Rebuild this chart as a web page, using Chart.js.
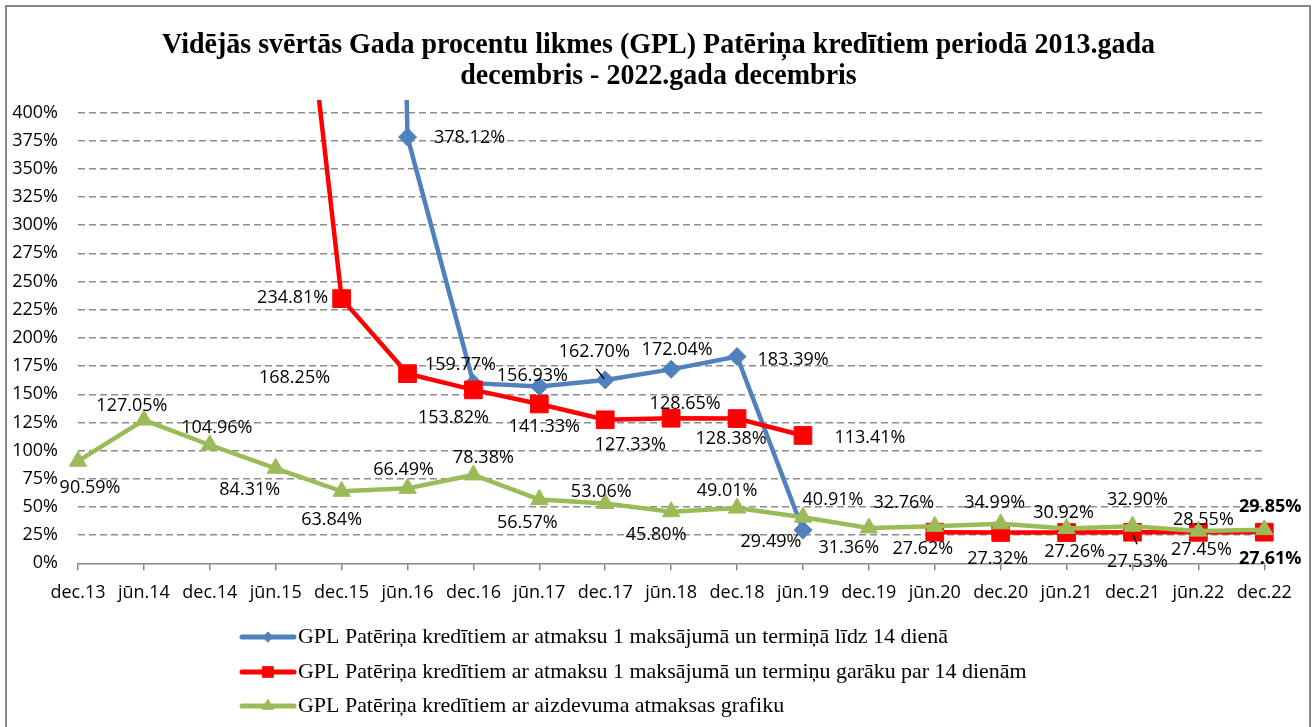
<!DOCTYPE html>
<html>
<head>
<meta charset="utf-8">
<title>GPL Patēriņa kredītiem</title>
<script src="https://cdn.jsdelivr.net/npm/chart.js@4.4.0/dist/chart.umd.min.js"></script>
<style>
  html, body { margin: 0; padding: 0; background: #fff; }
  #wrap { width: 1315px; height: 727px; position: relative; }
</style>
</head>
<body>
<div id="wrap"><canvas id="grafiks" width="1315" height="727"></canvas></div>
<script>
/* Dati nolasīti no attēla (vērtības %) */
const periodi = ['dec.13', 'jūn.14', 'dec.14', 'jūn.15', 'dec.15', 'jūn.16', 'dec.16', 'jūn.17', 'dec.17', 'jūn.18',
  'dec.18', 'jūn.19', 'dec.19', 'jūn.20', 'dec.20', 'jūn.21', 'dec.21', 'jūn.22', 'dec.22'];

// dec.15 vērtība iziet ārpus ass – aptuvens novērtējums
const gplLidz14 = [null, null, null, null, 3000, 378.12, 159.77, 156.93, 162.70, 172.04,
  183.39, 29.49, null, null, null, null, null, null, null];

// jūn.15 vērtība iziet ārpus ass – aptuvens novērtējums
const gplVirs14 = [null, null, null, 750, 234.81, 168.25, 153.82, 141.33, 127.33, 128.65,
  128.38, 113.41, null, 27.62, 27.32, 27.26, 27.53, 27.45, 27.61];

const gplGrafiks = [90.59, 127.05, 104.96, 84.31, 63.84, 66.49, 78.38, 56.57, 53.06, 45.80,
  49.01, 40.91, 31.36, 32.76, 34.99, 30.92, 32.90, 28.55, 29.85];

const yMaks = 400;
const ySolis = 25;

const nosaukums = ['Vidējās svērtās Gada procentu likmes (GPL) Patēriņa kredītiem periodā 2013.gada',
  'decembris - 2022.gada decembris'];
const legendasTeksti = [
  'GPL Patēriņa kredītiem ar atmaksu 1 maksājumā un termiņā līdz 14 dienā',
  'GPL Patēriņa kredītiem ar atmaksu 1 maksājumā un termiņu garāku par 14 dienām',
  'GPL Patēriņa kredītiem ar aizdevuma atmaksas grafiku'
];

/* Etiķešu novietojums attiecībā pret punktu [dx, dy] */
const etiketesLidz14 = [null, null, null, null, null, [62, 1], [-13, -18], [-7, -11], [-11, -28], [6, -19],
  [56, 3], [-32, 12], null, null, null, null, null, null, null];
const etiketesVirs14 = [null, null, null, null, [-49, -1], [-113, 4], [-20, 28], [5, 23], [25, 25], [14, -14],
  [-6, 20], [67, 2], null, [-12, 17], [-3, 26], [8, 19], [5, 30], [3, 18], [6, 27]];
const etiketesGrafiks = [[12, 27], [-12, -14], [7, -17], [-26, 22], [-10, 29], [-4, -18], [10, -17], [-12, 23],
  [-4, -12], [-15, 23], [-10, -17], [30, -17], [-20, 20], [-31, -23], [-6, -21], [-3, -16], [5, -26], [5, -11], [6, -23]];

const ZILS = '#4F81BD';
const SARKANS = '#FF0000';
const ZALS = '#9BBB59';
const PELEKS = '#878787';
const fonts = '"Open Sans", "Liberation Sans", sans-serif';
const serifs = '"Liberation Serif", "Times New Roman", serif';

const datuKopas = [
  { label: legendasTeksti[0], data: gplLidz14, borderColor: ZILS, backgroundColor: ZILS,
    pointStyle: 'rectRot', pointRadius: 9, etiketes: etiketesLidz14, legMarks: 5,
    lideri: { 8: [-1, -1, -9, -11] } },
  { label: legendasTeksti[1], data: gplVirs14, borderColor: SARKANS, backgroundColor: SARKANS,
    pointStyle: 'rect', pointRadius: 12.5, etiketes: etiketesVirs14, trekns: 18, legMarks: 7.5,
    lideri: { 16: [0.5, 2, 4.5, 12] } },
  { label: legendasTeksti[2], data: gplGrafiks, borderColor: ZALS, backgroundColor: ZALS,
    pointStyle: 'triangle', pointRadius: 10, etiketes: etiketesGrafiks, trekns: 18, legMarks: 6.5 }
];

const zimejumi = {
  id: 'zimejumi',
  afterDatasetsDraw(chart) {
    const ctx = chart.ctx;
    ctx.save();
    ctx.fillStyle = '#000';
    ctx.textAlign = 'center';
    ctx.textBaseline = 'middle';
    chart.data.datasets.forEach((ds, i) => {
      const meta = chart.getDatasetMeta(i);
      ds.data.forEach((v, j) => {
        const nob = ds.etiketes[j];
        if (v === null || !nob || v > yMaks) return;
        const p = meta.data[j];
        ctx.font = (ds.trekns === j ? 'bold ' : '') + '18px ' + fonts;
        ctx.fillText(v.toFixed(2) + '%', p.x + nob[0], p.y + nob[1]);
        if (ds.lideri && ds.lideri[j]) {
          const l = ds.lideri[j];
          ctx.strokeStyle = '#000';
          ctx.lineWidth = 1.5;
          ctx.beginPath();
          ctx.moveTo(p.x + l[0], p.y + l[1]);
          ctx.lineTo(p.x + l[2], p.y + l[3]);
          ctx.stroke();
        }
      });
    });
    ctx.restore();
  },
  afterDraw(chart) {
    const ctx = chart.ctx;
    ctx.save();
    // rāmis
    ctx.strokeStyle = PELEKS;
    ctx.lineWidth = 2;
    ctx.strokeRect(6, 6, 1304, 760);

    // virsraksts
    ctx.fillStyle = '#000';
    ctx.font = 'bold 29px ' + serifs;
    ctx.textAlign = 'center';
    ctx.textBaseline = 'alphabetic';
    const k = 993 / ctx.measureText(nosaukums[0]).width;
    [53, 84].forEach((y, i) => {
      ctx.save();
      ctx.translate(658.5, y);
      ctx.scale(k, 1);
      ctx.fillText(nosaukums[i], 0, 0);
      ctx.restore();
    });

    // leģenda
    ctx.font = '21px ' + serifs;
    ctx.textAlign = 'left';
    ctx.textBaseline = 'middle';
    const kl = 650 / ctx.measureText(legendasTeksti[0]).width;
    const rindas = [637, 672, 706];
    datuKopas.forEach((ds, i) => {
      const y = rindas[i];
      ctx.strokeStyle = ds.borderColor;
      ctx.lineWidth = 5;
      ctx.lineCap = 'round';
      ctx.beginPath();
      ctx.moveTo(242, y);
      ctx.lineTo(294, y);
      ctx.stroke();
      ctx.fillStyle = ds.backgroundColor;
      ctx.lineWidth = 1;
      Chart.helpers.drawPoint(ctx, { pointStyle: ds.pointStyle, radius: ds.legMarks, borderWidth: 1, rotation: 0 }, 268, y);
      ctx.fillStyle = '#000';
      ctx.save();
      ctx.translate(298, y);
      ctx.scale(kl, 1);
      ctx.fillText(ds.label, 0, 0);
      ctx.restore();
    });
    ctx.restore();
  }
};

new Chart(document.getElementById('grafiks'), {
  type: 'line',
  data: {
    labels: periodi,
    // zaļā līnija tiek zīmēta virspusē
    datasets: datuKopas.map(d => ({
      label: d.label,
      data: d.data,
      borderColor: d.borderColor,
      backgroundColor: d.backgroundColor,
      borderWidth: 4.5,
      pointStyle: d.pointStyle,
      pointRadius: d.pointRadius,
      pointBorderWidth: 1,
      pointBorderColor: d.borderColor,
      pointBackgroundColor: d.backgroundColor,
      tension: 0,
      spanGaps: false,
      etiketes: d.etiketes,
      trekns: d.trekns,
      lideri: d.lideri
    })).reverse()
  },
  options: {
    responsive: false,
    animation: false,
    layout: { padding: { top: 100, right: 50.7, left: 0, bottom: 0 } },
    plugins: {
      legend: { display: false },
      title: { display: false },
      tooltip: { enabled: false }
    },
    scales: {
      x: {
        offset: false,
        grid: { drawOnChartArea: false, drawTicks: true, tickLength: 7, color: PELEKS, lineWidth: 1.5 },
        border: { color: PELEKS, width: 1.5 },
        ticks: { color: '#000', font: { family: fonts, size: 18 }, padding: 12, maxRotation: 0, autoSkip: false },
        afterFit(s) { s.height = 163.7; }
      },
      y: {
        min: 0,
        max: yMaks + 11,
        afterBuildTicks(s) {
          const t = [];
          for (let v = 0; v <= yMaks; v += ySolis) t.push({ value: v });
          s.ticks = t;
        },
        ticks: { stepSize: ySolis, color: '#000', padding: 20, font: { family: fonts, size: 18 }, callback: v => v + '%' },
        grid: { drawTicks: false, lineWidth: 1.4, color: c => (c.tick && c.tick.value === 0 ? 'rgba(0,0,0,0)' : '#8c8c8c') },
        border: { display: false, dash: [7, 4] },
        afterFit(s) { s.width = 78; }
      }
    }
  },
  plugins: [zimejumi]
});
</script>
</body>
</html>
